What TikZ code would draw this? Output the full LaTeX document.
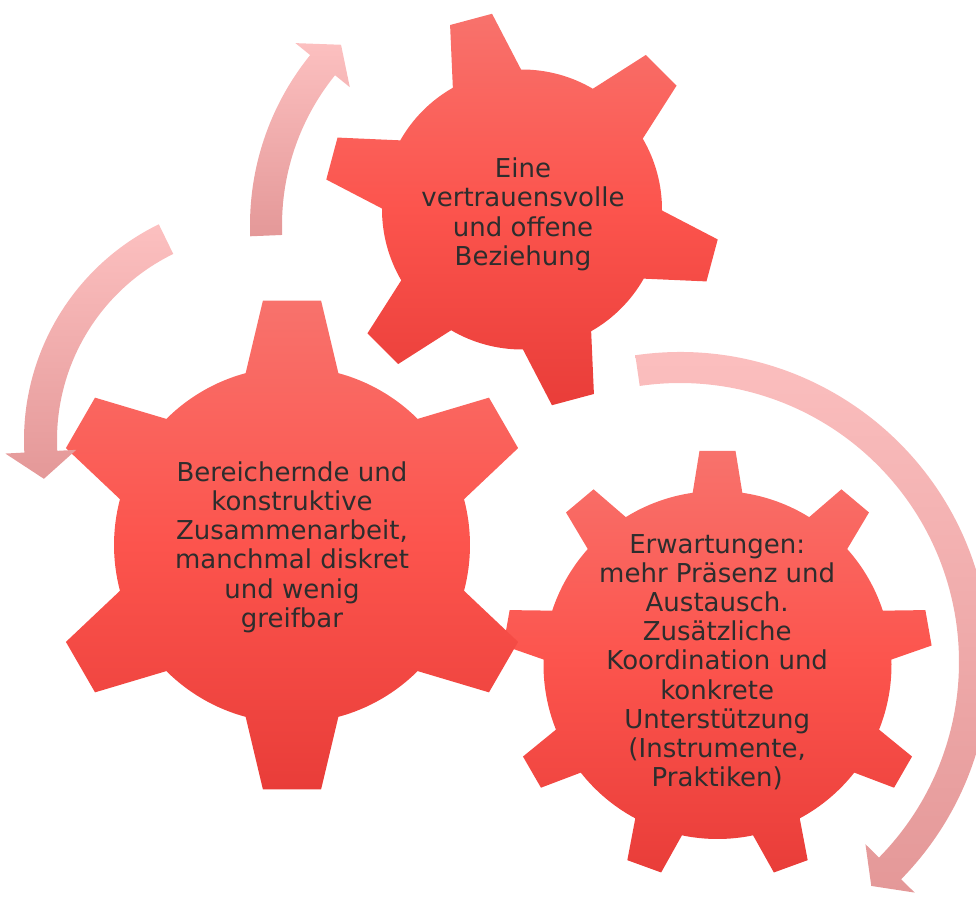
\documentclass[tikz,border=0pt]{standalone}
\usepackage{fontspec}
\setmainfont{DejaVu Sans}
\definecolor{gearlight}{RGB}{248,114,108}
\definecolor{gearmid}{RGB}{252,84,77}
\definecolor{geardark}{RGB}{233,61,57}
\definecolor{arrowlight}{RGB}{252,192,192}
\definecolor{arrowdark}{RGB}{228,152,152}
\definecolor{txtgrey}{RGB}{45,45,45}
\tikzstyle{gear}=[top color=gearlight, bottom color=geardark, middle color=gearmid]
\tikzstyle{circarrow}=[top color=arrowlight, bottom color=arrowdark]
\tikzstyle{geartext}=[align=center, text=txtgrey, inner sep=0pt, font=\fontsize{26}{29.2}\selectfont]
% centre, teeth, outer r, root r, first tooth angle, half tip angle, half root angle
\newcommand{\drawgear}[7]{%
  \pgfmathsetmacro{\gstep}{360/#2}
  \pgfmathtruncatemacro{\glast}{#2-1}
  \path[gear, shift={#1}] ({#5-#7}:#4)
    \foreach \i [evaluate=\i as \a using #5+\i*\gstep] in {0,...,\glast} {
      -- ({\a-#6}:#3) -- ({\a+#6}:#3) -- ({\a+#7}:#4)
      arc[start angle={\a+#7}, end angle={\a+\gstep-#7}, radius=#4]
    } -- cycle;
}
% centre, inner r, outer r, start angle, end angle, tip angle
\newcommand{\drawcircarrow}[6]{%
  \path[circarrow, shift={#1}] ({#4}:#3) arc[start angle=#4, end angle=#5, radius=#3]
    -- ({#5}:{#3+19}) -- ({#6}:{(#2+#3)/2}) -- ({#5}:{#2-19}) -- ({#5}:#2)
    arc[start angle=#5, end angle=#4, radius=#2] -- cycle;
}
\begin{document}
\begin{tikzpicture}[x=1pt,y=1pt]
		    \useasboundingbox (0,0) rectangle (976,898);
		    \clip (0,0) rectangle (976,898);
		    % gears
		    \drawgear{(717.5,233)}{9}{215}{174}{90}{4.8}{8.2}
		    \drawgear{(292,353)}{6}{246}{178}{90}{6.8}{15.1}
		    \drawgear{(522,688.5)}{6}{198}{140}{105}{6.3}{14.6}
		    % arrows
		    \drawcircarrow{(264,458)}{207}{240}{116}{183}{190}
		    \drawcircarrow{(520,673)}{238}{270}{182.4}{141}{134.8}
		    \drawcircarrow{(680,236)}{279}{310}{98.3}{-44.5}{-49.5}
		    % texts
		    \node[geartext] (trust) at (523,683.7) {Eine\\vertrauensvolle\\und offene\\Beziehung};
		    \node[geartext] (collab) at (292,350.8) {Bereichernde und\\konstruktive\\Zusammenarbeit,\\manchmal diskret\\und wenig\\greifbar};
		    \node[geartext] (expect) at (717.2,235.8) {Erwartungen:\\mehr Präsenz und\\Austausch.\\Zusätzliche\\Koordination und\\konkrete\\Unterstützung\\(Instrumente,\\Praktiken)};
\end{tikzpicture}
\end{document}
